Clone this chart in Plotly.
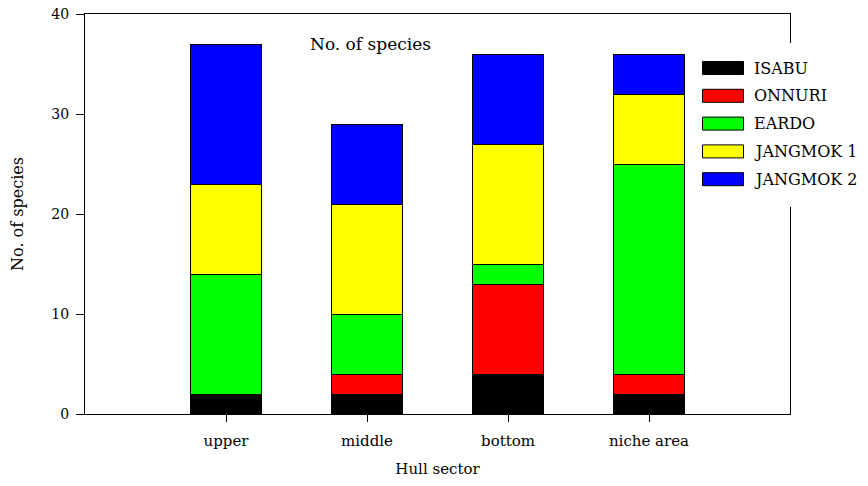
import plotly.graph_objects as go

sectors = ["upper", "middle", "bottom", "niche area"]
series_names = ["ISABU", "ONNURI", "EARDO", "JANGMOK 1", "JANGMOK 2"]
isabu = [2, 2, 4, 2]
onnuri = [0, 2, 9, 2]
eardo = [12, 6, 2, 21]
jangmok1 = [9, 11, 12, 7]
jangmok2 = [14, 8, 9, 4]
colors = ["#000000", "#ff0000", "#00ff00", "#ffff00", "#0000ff"]
y_ticks = [0, 10, 20, 30, 40]

FONT = "DejaVu Serif"
values = [isabu, onnuri, eardo, jangmok1, jangmok2]
xpos = [1, 2, 3, 4]

fig = go.Figure()
for name, vals, col in zip(series_names, values, colors):
    fig.add_trace(go.Bar(x=xpos, y=vals, name=name, width=0.505,
                         marker=dict(color=col, line=dict(color="black", width=1)),
                         showlegend=False))

# custom legend with wide swatches (coordinates relative to plot area, px)
PL, PT = 85, 14
W = 705; H = 400
def px(x):
    return (x - PL) / W
def py(y):
    return (PT + H - y) / H

shapes = [dict(type="rect", xref="paper", yref="paper",
               x0=px(700), x1=px(880), y0=py(207), y1=py(43),
               fillcolor="white", line=dict(width=0), layer="above")]
annotations = []
for i, (name, col) in enumerate(zip(series_names, colors)):
    yc = 68 + i * 27.8
    shapes.append(dict(type="rect", xref="paper", yref="paper",
                       x0=px(702.5), x1=px(743.5), y0=py(yc + 6.5), y1=py(yc - 6.5),
                       fillcolor=col, line=dict(color="black", width=1), layer="above"))
    annotations.append(dict(xref="paper", yref="paper", x=px(752), y=py(yc),
                            text=name, showarrow=False, xanchor="left", yanchor="middle",
                            font=dict(family=FONT, size=16, color="black")))

annotations.append(dict(xref="paper", yref="paper", x=px(370), y=py(44),
                        text="No. of species", showarrow=False, xanchor="center", yanchor="middle",
                        font=dict(family=FONT, size=17, color="black")))

fig.update_layout(
    barmode="stack",
    width=868, height=486,
    margin=dict(l=PL, r=868 - PL - W, t=PT, b=486 - PT - H),
    plot_bgcolor="white", paper_bgcolor="white",
    font=dict(family=FONT, size=15, color="black"),
    shapes=shapes, annotations=annotations,
    xaxis=dict(range=[0, 5], tickvals=xpos, ticktext=sectors, ticks="outside", ticklen=7,
               tickcolor="black", showline=True, linecolor="black", linewidth=1, mirror=True,
               showgrid=False, zeroline=False, automargin=False, ticklabelstandoff=6,
               ticklabeloverflow="allow",
               title=dict(text="Hull sector", font=dict(family=FONT, size=15), standoff=14)),
    yaxis=dict(range=[0, 40], tickvals=y_ticks, ticks="outside", ticklen=8, tickcolor="black",
               showline=True, linecolor="black", linewidth=1, mirror=True,
               showgrid=False, zeroline=False, automargin=False, ticklabelstandoff=4,
               ticklabeloverflow="allow", tickfont=dict(family=FONT, size=14),
               title=dict(text="No. of species", font=dict(family=FONT, size=16), standoff=23)),
)

# remove the default 8px page margin so the figure starts at the window corner
fig.write_html("out.html", config={"displayModeBar": False},
               post_script="document.body.style.margin='0';")
